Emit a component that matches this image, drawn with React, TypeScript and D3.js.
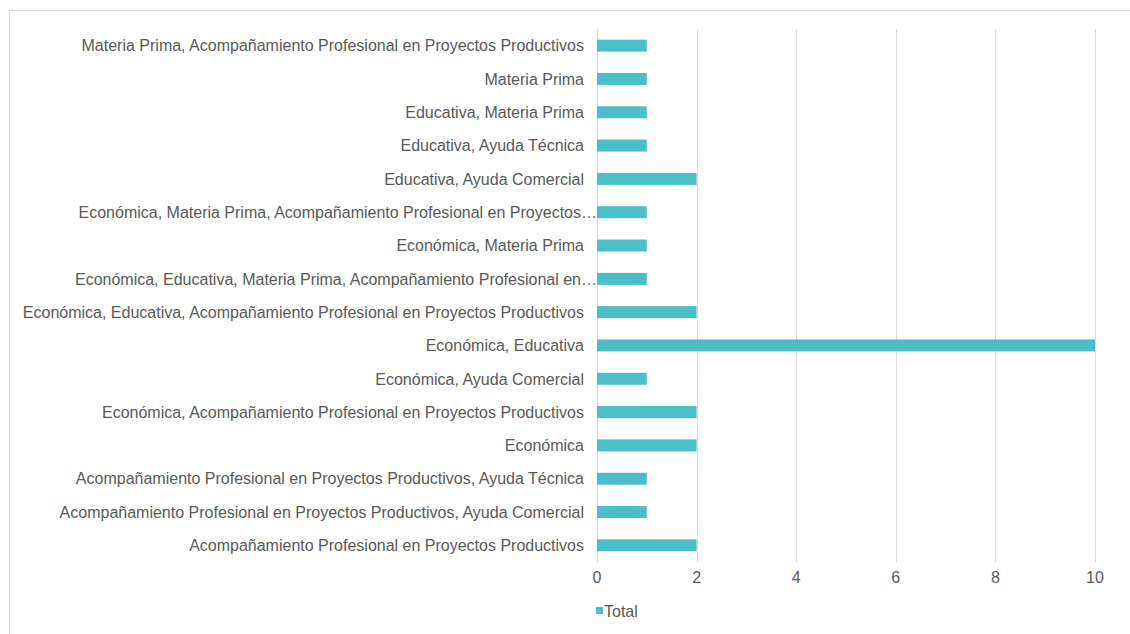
import React, { useRef, useEffect } from 'react'
import { select, scaleLinear, scaleBand } from 'd3'

// categories from top to bottom, as shown
const categories = [
    'Materia Prima, Acompañamiento Profesional en Proyectos Productivos',
    'Materia Prima',
    'Educativa, Materia Prima',
    'Educativa, Ayuda Técnica',
    'Educativa, Ayuda Comercial',
    'Económica, Materia Prima, Acompañamiento Profesional en Proyectos…',
    'Económica, Materia Prima',
    'Económica, Educativa, Materia Prima, Acompañamiento Profesional en…',
    'Económica, Educativa, Acompañamiento Profesional en Proyectos Productivos',
    'Económica, Educativa',
    'Económica, Ayuda Comercial',
    'Económica, Acompañamiento Profesional en Proyectos Productivos',
    'Económica',
    'Acompañamiento Profesional en Proyectos Productivos, Ayuda Técnica',
    'Acompañamiento Profesional en Proyectos Productivos, Ayuda Comercial',
    'Acompañamiento Profesional en Proyectos Productivos',
]
const totals = [1, 1, 1, 1, 2, 1, 1, 1, 2, 10, 1, 2, 2, 1, 1, 2]
const xTicks = [0, 2, 4, 6, 8, 10]
const seriesName = 'Total'

const W = 1130
const H = 634
const FONT = '"Liberation Sans", Arial, sans-serif'
const TEXT = '#595959'
const GRID = '#d9d9d9'
const BAR = '#4bbfc8'

const App = () => {
    const svgRef = useRef<SVGSVGElement>(null)

    useEffect(() => {
        const svg = select(svgRef.current)
        svg.selectAll('*').remove()

        const left = 597, right = 1095, top = 29, bottom = 562

        const xScale = scaleLinear().domain([0, 10]).range([left, right])
        const yScale = scaleBand<string>()
            .domain(categories)
            .range([top, bottom])
            .paddingInner(0.64)
            .paddingOuter(0.32)

        // outer frame
        svg.append('rect')
            .attr('x', 9.5).attr('y', 10.5)
            .attr('width', W).attr('height', H)
            .attr('fill', 'white')
            .attr('stroke', GRID)

        // gridlines
        svg.selectAll('.grid')
            .data(xTicks)
            .join('line')
            .attr('class', 'grid')
            .attr('x1', d => Math.round(xScale(d)) + 0.5)
            .attr('x2', d => Math.round(xScale(d)) + 0.5)
            .attr('y1', top)
            .attr('y2', bottom)
            .attr('stroke', GRID)

        // tick labels
        svg.selectAll('.tick-label')
            .data(xTicks)
            .join('text')
            .attr('class', 'tick-label')
            .attr('x', d => xScale(d))
            .attr('y', 583)
            .attr('text-anchor', 'middle')
            .attr('font-family', FONT)
            .attr('font-size', 16)
            .attr('fill', TEXT)
            .text(d => d)

        // bars
        svg.selectAll('.bar')
            .data(categories)
            .join('rect')
            .attr('class', 'bar')
            .attr('x', xScale(0))
            .attr('y', d => yScale(d)!)
            .attr('width', (d, i) => xScale(totals[i]) - xScale(0))
            .attr('height', yScale.bandwidth())
            .attr('fill', BAR)

        // category labels (truncated ones run right up to the axis)
        svg.selectAll('.cat')
            .data(categories)
            .join('text')
            .attr('class', 'cat')
            .attr('x', d => d.endsWith('…') ? left : left - 13)
            .attr('y', d => yScale(d)! + yScale.bandwidth() / 2)
            .attr('dy', '0.36em')
            .attr('text-anchor', 'end')
            .attr('font-family', FONT)
            .attr('font-size', 16)
            .attr('fill', TEXT)
            .text(d => d)

        // legend
        const legend = svg.append('g').attr('transform', 'translate(596,607)')
        legend.append('rect').attr('width', 7).attr('height', 7).attr('fill', BAR)
        legend.append('text')
            .attr('x', 8).attr('y', 4).attr('dy', '0.36em')
            .attr('font-family', FONT).attr('font-size', 16).attr('fill', TEXT)
            .text(seriesName)
    }, [])

    return (
        <svg ref={svgRef} width={W} height={H}
            style={{ position: 'absolute', left: 0, top: 0, background: 'white' }} />
    )
}

export default App
